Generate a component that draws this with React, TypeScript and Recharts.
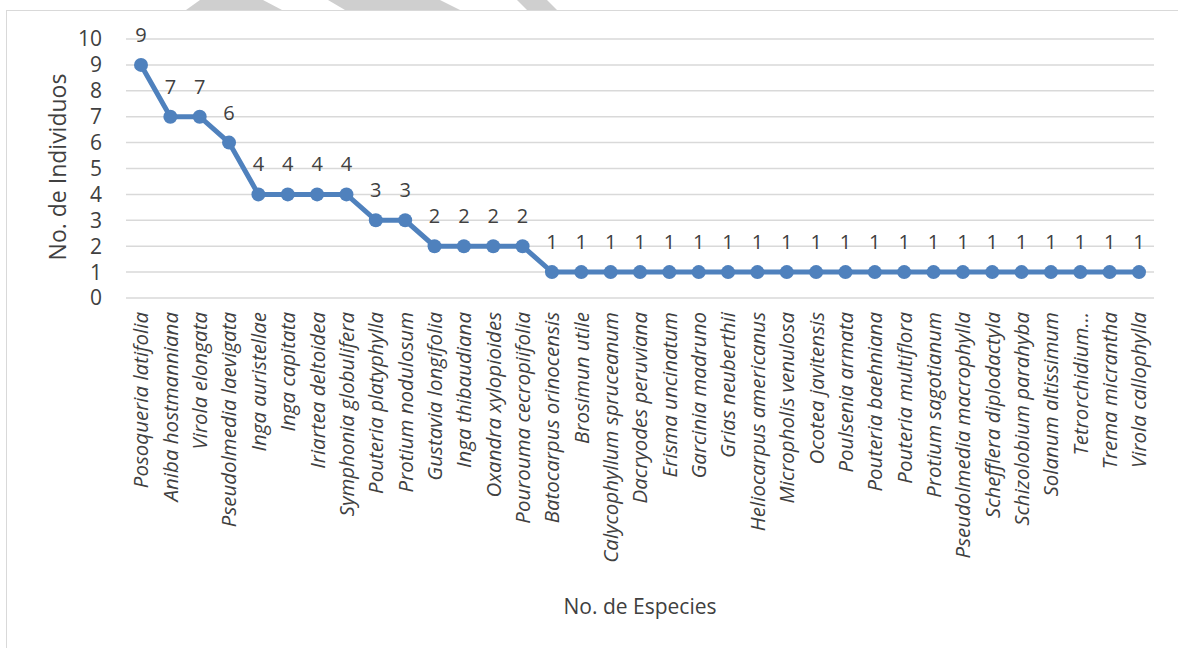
import { LineChart, Line, XAxis, YAxis, CartesianGrid, LabelList } from "recharts";

const species = [
  "Posoqueria latifolia",
  "Aniba hostmanniana",
  "Virola elongata",
  "Pseudolmedia laevigata",
  "Inga auristellae",
  "Inga capitata",
  "Iriartea deltoidea",
  "Symphonia globulifera",
  "Pouteria platyphylla",
  "Protium nodulosum",
  "Gustavia longifolia",
  "Inga thibaudiana",
  "Oxandra xylopioides",
  "Pourouma cecropiifolia",
  "Batocarpus orinocensis",
  "Brosimun utile",
  "Calycophyllum spruceanum",
  "Dacryodes peruviana",
  "Erisma uncinatum",
  "Garcinia madruno",
  "Grias neuberthii",
  "Heliocarpus americanus",
  "Micropholis venulosa",
  "Ocotea javitensis",
  "Poulsenia armata",
  "Pouteria baehniana",
  "Pouteria multiflora",
  "Protium sagotianum",
  "Pseudolmedia macrophylla",
  "Schefflera diplodactyla",
  "Schizolobium parahyba",
  "Solanum altissimum",
  "Tetrorchidium…",
  "Trema micrantha",
  "Virola callophylla",
];

const individuals = [
  9, 7, 7, 6, 4, 4, 4, 4, 3, 3, 2, 2, 2, 2,
  1, 1, 1, 1, 1, 1, 1, 1, 1, 1, 1, 1, 1, 1, 1, 1, 1, 1, 1, 1, 1,
];

const yTicks = [0, 1, 2, 3, 4, 5, 6, 7, 8, 9, 10];

const data = species.map((name, i) => ({ name, count: individuals[i] }));

const font = "'Open Sans', sans-serif";
const textColor = "#404040";

function SpeciesTick({ x, y, payload }: any) {
  return (
    <g transform={`translate(${x},${y + 14})`}>
      <text
        transform="rotate(-90)"
        textAnchor="end"
        dy="0.36em"
        fill={textColor}
        fontSize={20.5}
        fontStyle="italic"
        fontFamily={font}
      >
        {payload.value}
      </text>
    </g>
  );
}

export default function App() {
  return (
    <div
      style={{
        position: "fixed",
        left: 0,
        top: 0,
        width: 1178,
        height: 648,
        overflow: "hidden",
        background: "#fff",
        fontFamily: font,
      }}
    >
      {/* light grey shapes peeking over the top edge */}
      <svg width={1178} height={12} style={{ position: "absolute", left: 0, top: 0 }}>
        <polygon points="200,0 263,0 282,10 186,10" fill="#cfcfcf" />
        <polygon points="328,0 440,0 460,10 366,10 345,10" fill="#cfcfcf" />
        <polygon points="517,0 547,0 557,10 527,10" fill="#cfcfcf" />
      </svg>

      <div
        style={{
          position: "absolute",
          left: 6,
          top: 10,
          width: 1200,
          height: 700,
          border: "1px solid #d9d9d9",
        }}
      />

      <div style={{ position: "absolute", left: 0, top: 0 }}>
        <LineChart
          width={1178}
          height={648}
          data={data}
          margin={{ top: 39, right: 24, left: 0, bottom: 0 }}
        >
          <CartesianGrid vertical={false} stroke="#d9d9d9" strokeWidth={1.5} />
          <XAxis
            dataKey="name"
            interval={0}
            height={350}
            padding={{ left: 15, right: 15 }}
            axisLine={false}
            tickLine={false}
            tickSize={0}
            tickMargin={0}
            tick={<SpeciesTick />}
          />
          <YAxis
            width={126}
            domain={[0, 10]}
            ticks={yTicks}
            interval={0}
            axisLine={false}
            tickLine={false}
            tickSize={0}
            tickMargin={24}
            tick={{ fill: textColor, fontSize: 21, fontFamily: font }}
          />
          <Line
            type="linear"
            dataKey="count"
            stroke="#4f81bd"
            strokeWidth={5}
            dot={{ r: 7, fill: "#4f81bd", stroke: "none" }}
            activeDot={false}
            isAnimationActive={false}
          >
            <LabelList
              dataKey="count"
              position="top"
              offset={23}
              fill={textColor}
              fontSize={20}
              fontFamily={font}
            />
          </Line>
        </LineChart>
      </div>

      <div
        style={{
          position: "absolute",
          left: 57,
          top: 167,
          transform: "translate(-50%, -50%) rotate(-90deg)",
          whiteSpace: "nowrap",
          fontSize: 23,
          lineHeight: 1,
          color: textColor,
        }}
      >
        No. de Individuos
      </div>

      <div
        style={{
          position: "absolute",
          left: 640,
          top: 596,
          transform: "translateX(-50%)",
          whiteSpace: "nowrap",
          fontSize: 21,
          lineHeight: 1,
          color: textColor,
        }}
      >
        No. de Especies
      </div>
    </div>
  );
}
